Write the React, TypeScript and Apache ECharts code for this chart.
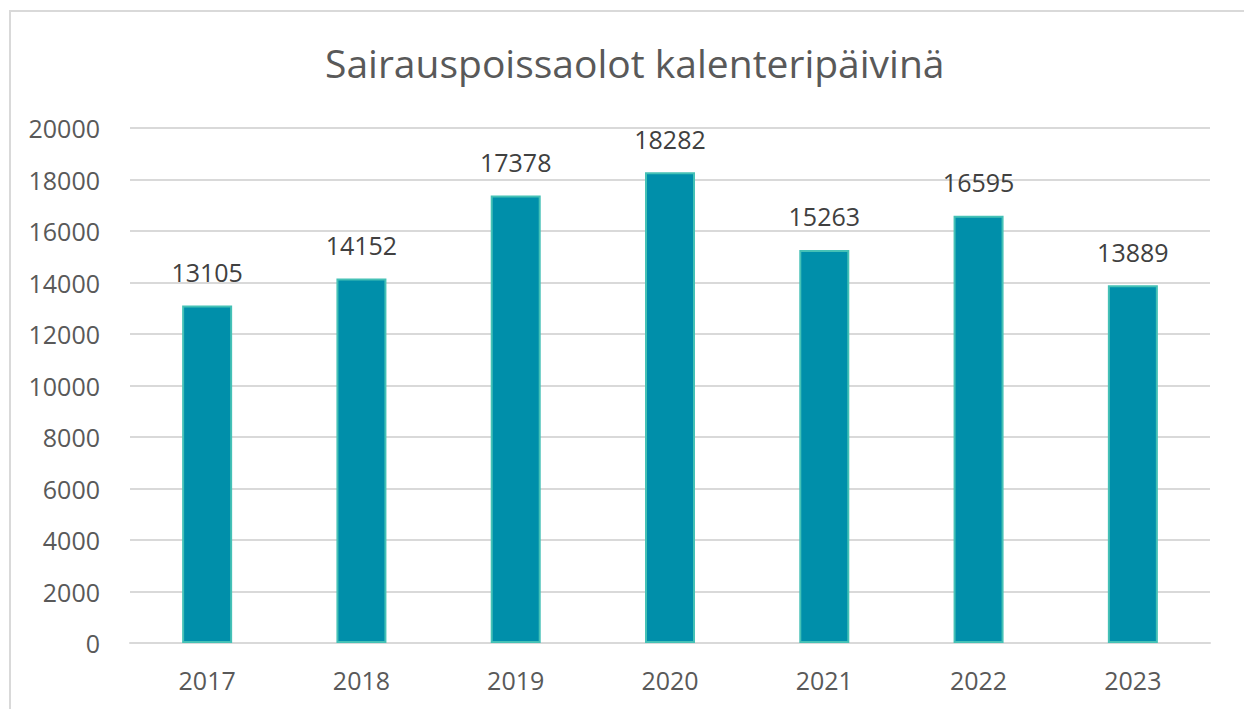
import React, { useEffect, useRef } from "react";
import * as echarts from "echarts";

const titleText = "Sairauspoissaolot kalenteripäivinä";
const years = ["2017", "2018", "2019", "2020", "2021", "2022", "2023"];
const days = [13105, 14152, 17378, 18282, 15263, 16595, 13889];

export default function App() {
  const ref = useRef<HTMLDivElement>(null);
  useEffect(() => {
    document.body.style.margin = "0";
    const chart = echarts.init(ref.current!, null, { renderer: "svg" });
    const font = "'Open Sans', sans-serif";
    chart.setOption({
      animation: false,
      backgroundColor: "#ffffff",
      title: {
        text: titleText,
        left: 320,
        top: 38,
        textStyle: { fontFamily: font, fontSize: 39, fontWeight: "normal", color: "#595959" },
      },
      graphic: [
        {
          type: "rect",
          shape: { x: 10, y: 11, width: 1400, height: 900 },
          style: { fill: "none", stroke: "#d9d9d9", lineWidth: 2 },
          silent: true,
        },
      ],
      grid: { left: 130, right: 34, top: 128, bottom: 66 },
      xAxis: {
        type: "category",
        data: years,
        axisLine: { show: true, lineStyle: { color: "#d9d9d9", width: 2 } },
        axisTick: { show: false },
        axisLabel: { color: "#595959", fontFamily: font, fontSize: 25, margin: 24 },
      },
      yAxis: {
        type: "value",
        min: 0,
        max: 20000,
        interval: 2000,
        axisLine: { show: false },
        axisTick: { show: false },
        splitLine: { lineStyle: { color: "#d9d9d9", width: 2 } },
        axisLabel: {
          color: "#595959",
          fontFamily: font,
          fontSize: 25,
          margin: 30,
          formatter: (v: number) => String(v),
        },
      },
      series: [
        {
          type: "bar",
          barWidth: 50,
          data: days,
          itemStyle: { color: "#008FAA", borderColor: "#45C1B6", borderWidth: 2 },
          label: {
            show: true,
            position: "top",
            distance: 21,
            color: "#404040",
            fontFamily: font,
            fontSize: 25,
          },
        },
      ],
    });
    return () => chart.dispose();
  }, []);
  return (
    <div
      ref={ref}
      style={{ position: "fixed", left: 0, top: 0, width: 1244, height: 709 }}
    />
  );
}
